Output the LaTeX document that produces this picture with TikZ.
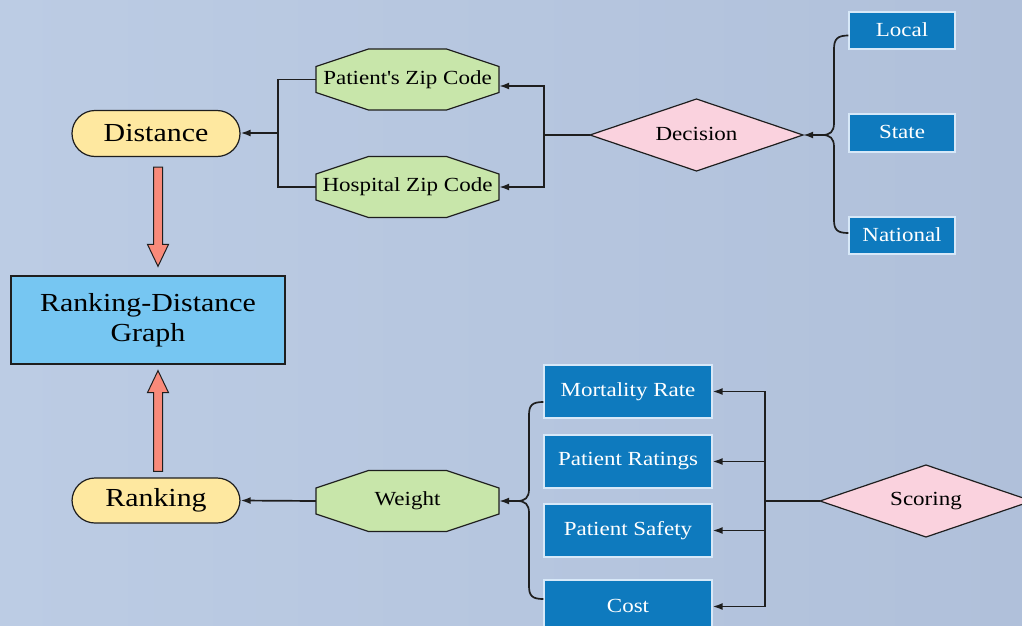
\documentclass[tikz,border=0pt]{standalone}
\usepackage{fontspec}
\setmainfont{Liberation Serif}[FakeStretch=1.15]
\usetikzlibrary{calc,arrows.meta}
\definecolor{bgA}{RGB}{188,204,228}
\definecolor{bgB}{RGB}{176,192,218}
\definecolor{stadfill}{RGB}{254,232,160}
\definecolor{octfill}{RGB}{200,230,170}
\definecolor{diafill}{RGB}{250,210,222}
\definecolor{graphfill}{RGB}{118,198,242}
\definecolor{boxfill}{RGB}{14,122,190}
\definecolor{boxline}{RGB}{215,232,248}
\definecolor{redfill}{RGB}{248,138,122}
\definecolor{ink}{RGB}{30,30,30}
\newcommand\octpath[1]{\filldraw[octshape] ($(#1)+(-39,-30.5)$) -- ($(#1)+(39,-30.5)$) -- ($(#1)+(91.5,-13)$) -- ($(#1)+(91.5,13)$) -- ($(#1)+(39,30.5)$) -- ($(#1)+(-39,30.5)$) -- ($(#1)+(-91.5,13)$) -- ($(#1)+(-91.5,-13)$) -- cycle;}
\newcommand\diapath[3]{\filldraw[diashape] ($(#1)+(-#2,0)$) -- ($(#1)+(0,-#3)$) -- ($(#1)+(#2,0)$) -- ($(#1)+(0,#3)$) -- cycle;}
\begin{document}
\begin{tikzpicture}[x=1pt,y=-1pt,
  smalltext/.style={font=\fontsize{20}{24}\selectfont},
  bigtext/.style={font=\fontsize{26}{30}\selectfont},
  stad/.style={bigtext,draw=ink,line width=1.2pt,fill=stadfill,rounded corners=23pt,minimum width=168pt,minimum height=46pt,inner sep=0pt},
  octshape/.style={draw=ink,line width=1.2pt,fill=octfill},
  diashape/.style={draw=ink,line width=1.2pt,fill=diafill},
  octtext/.style={smalltext,minimum width=183pt,minimum height=61pt,inner sep=0pt,text=black},
  diatext/.style={smalltext,minimum height=72pt,inner sep=0pt,text=black},
  bluebox/.style={smalltext,draw=boxline,line width=1.2pt,fill=boxfill,text=white,inner sep=0pt},
  graphbox/.style={bigtext,draw=ink,line width=1.2pt,fill=graphfill,minimum width=274pt,minimum height=88pt,align=center,inner sep=0pt},
  conn/.style={draw=ink,line width=1.7pt},
  arr/.style={conn,-{Latex[length=10pt,width=7pt]}},
  redarr/.style={draw=ink,line width=1pt,fill=redfill}]
\useasboundingbox (0,0) rectangle (1022,626);
\shade[left color=bgA,right color=bgB] (0,0) rectangle (1022,626);

% main nodes
\node[stad] (dist) at (156,133.5) {Distance};
\node[stad,minimum height=45pt] (rank) at (156,500.5) {Ranking};
\node[graphbox] (graph) at (148,320) {Ranking-Distance\\Graph};

% octagons
\coordinate (pzc) at (407.5,79.5);
\coordinate (hzc) at (407.5,187);
\coordinate (wtc) at (407.5,501);
\octpath{pzc}\octpath{hzc}\octpath{wtc}
\node[octtext] (pz) at (pzc) {\raisebox{2pt}{Patient\textquotesingle s Zip Code}};
\node[octtext] (hz) at (hzc) {\raisebox{2pt}{Hospital Zip Code}};
\node[octtext] (wt) at (wtc) {\raisebox{2pt}{Weight}};

% diamonds
\coordinate (decc) at (696.5,135);
\coordinate (scoc) at (926,501);
\diapath{decc}{106.5}{36}\diapath{scoc}{106}{36}
\node[diatext,minimum width=213pt] (dec) at (decc) {\raisebox{2pt}{Decision}};
\node[diatext,minimum width=212pt] (sco) at (scoc) {\raisebox{2pt}{Scoring}};

% blue boxes
\node[bluebox,minimum width=106pt,minimum height=37pt] (local) at (902,30.5) {\raisebox{2pt}{Local}};
\node[bluebox,minimum width=106pt,minimum height=38pt] (state) at (902,133) {\raisebox{2pt}{State}};
\node[bluebox,minimum width=106pt,minimum height=37pt] (natl) at (902,235.5) {\raisebox{2pt}{National}};
\node[bluebox,minimum width=168pt,minimum height=53pt] (mort) at (628,391.5) {\raisebox{2pt}{Mortality Rate}};
\node[bluebox,minimum width=168pt,minimum height=53pt] (prat) at (628,461.5) {\raisebox{2pt}{Patient Ratings}};
\node[bluebox,minimum width=168pt,minimum height=53pt] (psaf) at (628,530.5) {\raisebox{2pt}{Patient Safety}};
\node[bluebox,minimum width=168pt,minimum height=53pt] (cost) at (628,606.5) {\raisebox{2pt}{Cost}};

% red block arrows
\coordinate (da1) at ($(dist.south)+(2,10)$);
\coordinate (da2) at ($(graph.north)+(10,-9)$);
\draw[redarr] ($(da1)+(-4.5,0)$) -- ($(da2)+(-4.5,-22)$) -- ($(da2)+(-10.5,-22)$) -- (da2) -- ($(da2)+(10.5,-22)$) -- ($(da2)+(4.5,-22)$) -- ($(da1)+(4.5,0)$) -- cycle;
\coordinate (ua1) at ($(rank.north)+(2,-6)$);
\coordinate (ua2) at ($(graph.south)+(10,6)$);
\draw[redarr] ($(ua1)+(-4.5,0)$) -- ($(ua2)+(-4.5,22)$) -- ($(ua2)+(-10.5,22)$) -- (ua2) -- ($(ua2)+(10.5,22)$) -- ($(ua2)+(4.5,22)$) -- ($(ua1)+(4.5,0)$) -- cycle;

% zip codes -> distance
\coordinate (dj) at (278,133);
\draw[conn] (pz.west) -| (dj) |- (hz.west);
\draw[arr] (dj) -- (dist.east |- dj);

% decision -> zip codes
\coordinate (decj) at (544,135);
\draw[conn] (dec.west) -- (decj);
\draw[arr] (decj) |- ($(pz.east)+(0,6.5)$);
\draw[arr] (decj) |- ($(hz.east)+(0,0)$);

% local/national brace -> decision
\coordinate (bj) at (822,135);
\draw[conn] ($(local.west)+(0,5)$) .. controls +(-11,0) and +(0,-10) .. (834,49) -- (834,123) .. controls +(0,9) and +(8,0) .. (bj);
\draw[conn] ($(natl.west)+(0,-2.5)$) .. controls +(-11,0) and +(0,10) .. (834,220) -- (834,147) .. controls +(0,-9) and +(8,0) .. (bj);
\draw[arr] (bj) -- (dec.east);

% scoring -> criteria
\coordinate (sj) at (765,501);
\draw[conn] (sco.west) -- (sj);
\draw[arr] (sj) |- (mort.east);
\draw[arr] (sj) |- (prat.east);
\draw[arr] (sj) |- (psaf.east);
\draw[arr] (sj) |- (cost.east);

% criteria brace -> weight
\coordinate (bw) at (517,501);
\draw[conn] ($(mort.west)+(0,10.5)$) .. controls +(-11,0) and +(0,-10) .. (529,415) -- (529,489) .. controls +(0,9) and +(8,0) .. (bw);
\draw[conn] ($(cost.west)+(0,-7.5)$) .. controls +(-11,0) and +(0,10) .. (529,586) -- (529,513) .. controls +(0,-9) and +(8,0) .. (bw);
\draw[arr] (bw) -- (wt.east);

% weight -> ranking
\draw[arr] (wt.west) -- (rank.east);
\end{tikzpicture}
\end{document}
